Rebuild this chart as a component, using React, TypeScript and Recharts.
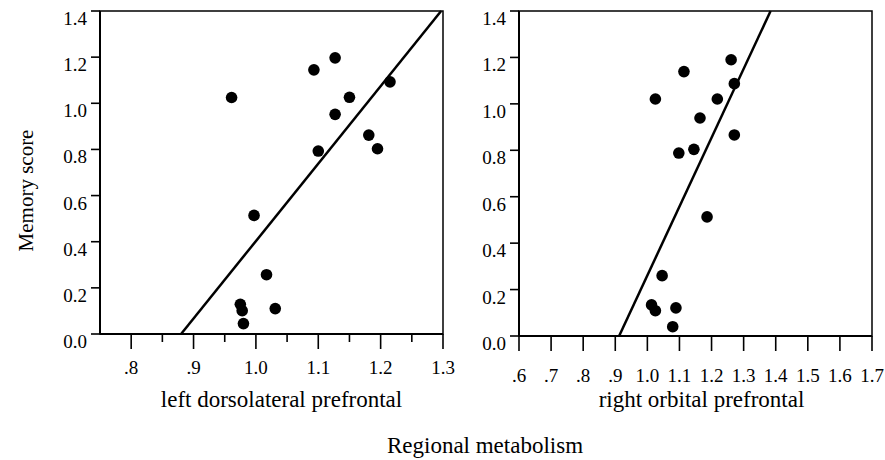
import React from 'react';
import { ScatterChart, Scatter, XAxis, YAxis, ReferenceLine, ReferenceArea } from 'recharts';

const FONT = "'Liberation Serif', 'Times New Roman', serif";

// memory score vs regional metabolism
const leftX = [0.961, 1.093, 1.127, 1.215, 1.15, 1.127, 1.181, 1.195, 1.1, 0.997, 1.017, 0.975, 0.978, 1.031, 0.98];
const leftY = [1.025, 1.145, 1.197, 1.093, 1.026, 0.952, 0.862, 0.803, 0.793, 0.514, 0.257, 0.129, 0.101, 0.11, 0.045];
const rightX = [1.025, 1.114, 1.261, 1.271, 1.218, 1.164, 1.271, 1.145, 1.098, 1.186, 1.046, 1.013, 1.025, 1.089, 1.079];
const rightY = [1.021, 1.139, 1.19, 1.087, 1.021, 0.939, 0.866, 0.804, 0.788, 0.513, 0.26, 0.134, 0.109, 0.121, 0.04];

// regression line end points
const leftFit = [{ x: 0.88, y: 0 }, { x: 1.297, y: 1.4 }];
const rightFit = [{ x: 0.912, y: 0 }, { x: 1.384, y: 1.4 }];

const yTicks = [0, 0.2, 0.4, 0.6, 0.8, 1.0, 1.2, 1.4];
const leftXTicks = [0.8, 0.85, 0.9, 0.95, 1.0, 1.05, 1.1, 1.15, 1.2, 1.25, 1.3];
const rightXTicks = [0.6, 0.7, 0.8, 0.9, 1.0, 1.1, 1.2, 1.3, 1.4, 1.5, 1.6, 1.7];
const leftDomain: [number, number] = [0.75, 1.3];
const rightDomain: [number, number] = [0.6, 1.7];

const toPoints = (xs: number[], ys: number[]) => xs.map((x, i) => ({ x, y: ys[i] }));

const fmtX = (v: number) => (v < 1 ? v.toFixed(1).slice(1) : v.toFixed(1));

const XTick = (props: any) => {
  const { x, y, payload, textY } = props;
  const v = payload.value;
  const major = Math.abs(v * 10 - Math.round(v * 10)) < 1e-6;
  return (
    <g>
      <line x1={x} x2={x} y1={y} y2={y + (major ? 15 : 8)} stroke="#000" strokeWidth={1.6} />
      {major && (
        <text x={x} y={y + textY} textAnchor="middle" fill="#000" fontSize={19} style={{ fontFamily: FONT }}>
          {fmtX(v)}
        </text>
      )}
    </g>
  );
};

// labels sit a little below their tick in the original
const YTick = (props: any) => {
  const { x, y, payload } = props;
  return (
    <text x={x} y={y + 14} textAnchor="end" fill="#000" fontSize={19} style={{ fontFamily: FONT }}>
      {payload.value.toFixed(1)}
    </text>
  );
};

const Dot = (props: any) => <circle cx={props.cx} cy={props.cy} r={5.8} fill="#000" />;

const MemoryLabel = (props: any) => {
  const { viewBox } = props;
  const cx = viewBox.x + 33;
  const cy = viewBox.y + viewBox.height / 2 + 18;
  return (
    <text transform={`translate(${cx},${cy}) rotate(-90)`} textAnchor="middle" fill="#000" fontSize={21} style={{ fontFamily: FONT }}>
      Memory score
    </text>
  );
};

const AxisTitle = (props: any) => {
  const { viewBox, value, dx } = props;
  return (
    <text x={viewBox.x + viewBox.width / 2 + dx} y={viewBox.y + viewBox.height - 13} textAnchor="middle" fill="#000" fontSize={23} style={{ fontFamily: FONT }}>
      {value}
    </text>
  );
};

interface PanelProps {
  data: { x: number; y: number }[];
  fit: { x: number; y: number }[];
  domain: [number, number];
  xTicks: number[];
  width: number;
  right: number;
  yWidth: number;
  xHeight: number;
  tickTextY: number;
  label: string;
  labelDx: number;
  showYLabel?: boolean;
}

const Panel: React.FC<PanelProps> = ({ data, fit, domain, xTicks, width, right, yWidth, xHeight, tickTextY, label, labelDx, showYLabel }) => (
  <ScatterChart width={width} height={420} margin={{ top: 11, right, bottom: 0, left: 0 }} style={{ fontFamily: FONT }}>
    <XAxis
      dataKey="x"
      type="number"
      domain={domain}
      ticks={xTicks}
      interval={0}
      allowDataOverflow
      height={xHeight}
      tickSize={0}
      tickMargin={0}
      tickLine={false}
      axisLine={{ stroke: '#000', strokeWidth: 2 }}
      tick={<XTick textY={tickTextY} />}
      label={<AxisTitle value={label} dx={labelDx} />}
    />
    <YAxis
      dataKey="y"
      type="number"
      domain={[0, 1.4]}
      ticks={yTicks}
      interval={0}
      allowDataOverflow
      width={yWidth}
      tickSize={9}
      tickMargin={4}
      stroke="#000"
      axisLine={{ stroke: '#000', strokeWidth: 2 }}
      tickLine={{ stroke: '#000', strokeWidth: 1.6 }}
      tick={<YTick />}
      label={showYLabel ? <MemoryLabel /> : undefined}
    />
    <ReferenceArea x1={domain[0]} x2={domain[1]} y1={0} y2={1.4} fill="none" stroke="#000" strokeWidth={1.5} />
    <ReferenceLine segment={fit} stroke="#000" strokeWidth={2.5} />
    <Scatter data={data} fill="#000" shape={<Dot />} isAnimationActive={false} />
  </ScatterChart>
);

export default function App() {
  return (
    <div style={{ position: 'absolute', left: 0, top: 0, width: 885, height: 460, background: '#fff', fontFamily: FONT }}>
      <div style={{ position: 'absolute', left: 0, top: 0 }}>
        <Panel
          data={toPoints(leftX, leftY)}
          fit={leftFit}
          domain={leftDomain}
          xTicks={leftXTicks}
          width={460}
          right={17}
          yWidth={100}
          xHeight={86}
          tickTextY={40}
          label="left dorsolateral prefrontal"
          labelDx={10}
          showYLabel
        />
      </div>
      <div style={{ position: 'absolute', left: 420, top: 0 }}>
        <Panel
          data={toPoints(rightX, rightY)}
          fit={rightFit}
          domain={rightDomain}
          xTicks={rightXTicks}
          width={465}
          right={13}
          yWidth={99}
          xHeight={84}
          tickTextY={46}
          label="right orbital prefrontal"
          labelDx={6}
        />
      </div>
      <svg width={885} height={460} style={{ position: 'absolute', left: 0, top: 0, pointerEvents: 'none' }}>
        <text x={485} y={453} textAnchor="middle" fill="#000" fontSize={23} style={{ fontFamily: FONT }}>
          Regional metabolism
        </text>
      </svg>
    </div>
  );
}
